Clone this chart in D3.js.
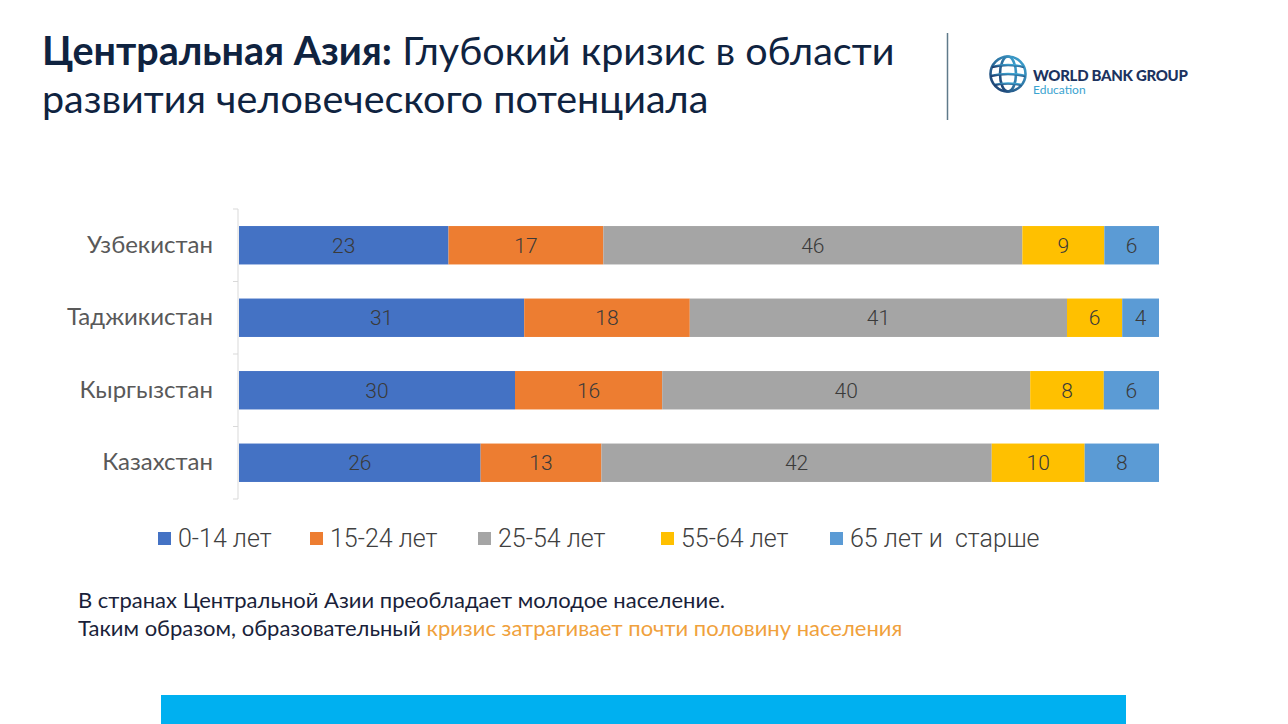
<!DOCTYPE html>
<html>
<head>
<meta charset="utf-8">
<script src="https://cdn.jsdelivr.net/npm/d3@7"></script>
<style>
  html, body { margin: 0; padding: 0; background: #ffffff; }
  svg { display: block; }
  text { white-space: pre; }
</style>
</head>
<body>
<svg id="chart" width="1288" height="724"></svg>
<script>
// ---- data ----
const countries = ["Узбекистан", "Таджикистан", "Кыргызстан", "Казахстан"];
const groups = ["0-14 лет", "15-24 лет", "25-54 лет", "55-64 лет", "65 лет и  старше"];
const age0_14  = [23, 31, 30, 26];
const age15_24 = [17, 18, 16, 13];
const age25_54 = [46, 41, 40, 42];
const age55_64 = [9, 6, 8, 10];
const age65p   = [6, 4, 6, 8];
const colors = ["#4472c4", "#ed7d31", "#a5a5a5", "#ffc000", "#5b9bd5"];

const titleBold = "Центральная Азия:";
const titleRest = " Глубокий кризис в области";
const titleLine2 = "развития человеческого потенциала";
const note1 = "В странах Центральной Азии преобладает молодое население.";
const note2a = "Таким образом, образовательный ";
const note2b = "кризис затрагивает почти половину населения";

const series = [age0_14, age15_24, age25_54, age55_64, age65p];
const rows = countries.map((c, i) => {
  const r = { country: c };
  groups.forEach((g, k) => r[g] = series[k][i]);
  return r;
});

const svg = d3.select("#chart");

// ---- title ----
const titleFont = "Lato, 'Open Sans', sans-serif";
const t1 = svg.append("text").attr("x", 42).attr("y", 65)
  .attr("font-family", titleFont).attr("font-size", 39.5).attr("fill", "#0f2340");
t1.append("tspan").attr("font-weight", 700).text(titleBold);
t1.append("tspan").attr("font-weight", 400).text(titleRest);
svg.append("text").attr("x", 42).attr("y", 113)
  .attr("font-family", titleFont).attr("font-size", 39.5).attr("fill", "#0f2340")
  .text(titleLine2);

// divider
svg.append("line").attr("x1", 947.5).attr("x2", 947.5).attr("y1", 33).attr("y2", 120)
  .attr("stroke", "#5f7a8a").attr("stroke-width", 1.5);

// ---- logo ----
const defs = svg.append("defs");
const globeGrad = defs.append("linearGradient").attr("id", "gg")
  .attr("x1", "0").attr("y1", "1").attr("x2", "1").attr("y2", "0");
globeGrad.append("stop").attr("offset", "0").attr("stop-color", "#1b3a6b");
globeGrad.append("stop").attr("offset", "1").attr("stop-color", "#3fa9d6");
const logo = svg.append("g").attr("transform", "translate(1008,74)");
const gr = logo.append("g").attr("fill", "none").attr("stroke-width", 2.6).attr("stroke", "url(#gg)");
gr.append("circle").attr("r", 17.5);
gr.append("ellipse").attr("rx", 8).attr("ry", 17.5);
gr.append("line").attr("x1", 0).attr("x2", 0).attr("y1", -17.5).attr("y2", 17.5);
gr.append("path").attr("d", "M-16,-7 Q0,-11 16,-7");
gr.append("path").attr("d", "M-17.5,2 Q0,-2 17.5,2");
gr.append("path").attr("d", "M-14,11 Q0,8 14,11");
logo.append("text").attr("x", 25).attr("y", 7)
  .attr("font-family", "Lato, sans-serif").attr("font-weight", 900)
  .attr("font-size", 15).attr("fill", "#1c3360").attr("letter-spacing", -0.3)
  .text("WORLD BANK GROUP");
logo.append("text").attr("x", 25).attr("y", 20)
  .attr("font-family", "Lato, sans-serif").attr("font-weight", 400)
  .attr("font-size", 12).attr("fill", "#3aa3d0")
  .text("Education");

// ---- chart ----
const x0 = 239, x1 = 1159, yTop = 209, yBot = 499;
const x = d3.scaleLinear().domain([0, 1]).range([x0, x1]);
const y = d3.scaleBand().domain(countries).range([yTop, yBot]).paddingInner(0.47).paddingOuter(0.235);

const stack = d3.stack().keys(groups).offset(d3.stackOffsetExpand);
const stacked = stack(rows);

const g = svg.append("g");
stacked.forEach((layer, k) => {
  const lg = g.append("g");
  lg.selectAll("rect").data(layer).join("rect")
    .attr("x", d => x(d[0]))
    .attr("y", d => y(d.data.country))
    .attr("width", d => x(d[1]) - x(d[0]))
    .attr("height", y.bandwidth())
    .attr("fill", colors[k]);
  lg.selectAll("text").data(layer).join("text")
    .attr("x", d => (x(d[0]) + x(d[1])) / 2)
    .attr("y", d => y(d.data.country) + y.bandwidth() / 2)
    .attr("dy", "0.36em")
    .attr("text-anchor", "middle")
    .attr("font-family", "Roboto, sans-serif")
    .attr("font-weight", 300)
    .attr("font-size", 21)
    .attr("fill", "#3a3a3a")
    .text(d => d.data[groups[k]]);
});

// category axis
const yAxis = d3.axisLeft(y).tickSize(0).tickPadding(25);
const ax = svg.append("g").attr("transform", `translate(${x0 - 1},0)`).call(yAxis);
ax.select(".domain").attr("stroke", "#d9d9d9").attr("d", `M0,${yTop}V${yBot}`);
ax.selectAll(".tick text")
  .attr("font-family", "Lato, 'Open Sans', sans-serif")
  .attr("font-size", 24).attr("fill", "#595959");
const bounds = countries.map(c => y(c) - y.step() * y.paddingInner() / 2).concat([yBot]);
ax.selectAll(".bnd").data(bounds).join("line").attr("class", "bnd")
  .attr("x1", -5).attr("x2", 0).attr("y1", d => d).attr("y2", d => d)
  .attr("stroke", "#d9d9d9");

// ---- legend ----
const legX = [158, 310, 478, 661, 830];
const leg = svg.append("g");
groups.forEach((name, k) => {
  leg.append("rect").attr("x", legX[k]).attr("y", 532).attr("width", 13).attr("height", 13).attr("fill", colors[k]);
  leg.append("text").attr("x", legX[k] + 20).attr("y", 538).attr("dy", "0.36em")
    .attr("font-family", "Roboto, sans-serif").attr("font-weight", 300)
    .attr("font-size", 25).attr("fill", "#404040").text(name);
});

// ---- note ----
const noteFont = "Lato, 'Open Sans', sans-serif";
svg.append("text").attr("x", 78).attr("y", 608)
  .attr("font-family", noteFont).attr("font-size", 22).attr("fill", "#1a1f3a").text(note1);
const n2 = svg.append("text").attr("x", 78).attr("y", 636)
  .attr("font-family", noteFont).attr("font-size", 22);
n2.append("tspan").attr("fill", "#1a1f3a").text(note2a);
n2.append("tspan").attr("fill", "#f0a13c").text(note2b);

// bottom banner
svg.append("rect").attr("x", 161).attr("y", 695).attr("width", 965).attr("height", 29).attr("fill", "#00b0f0");
</script>
</body>
</html>
